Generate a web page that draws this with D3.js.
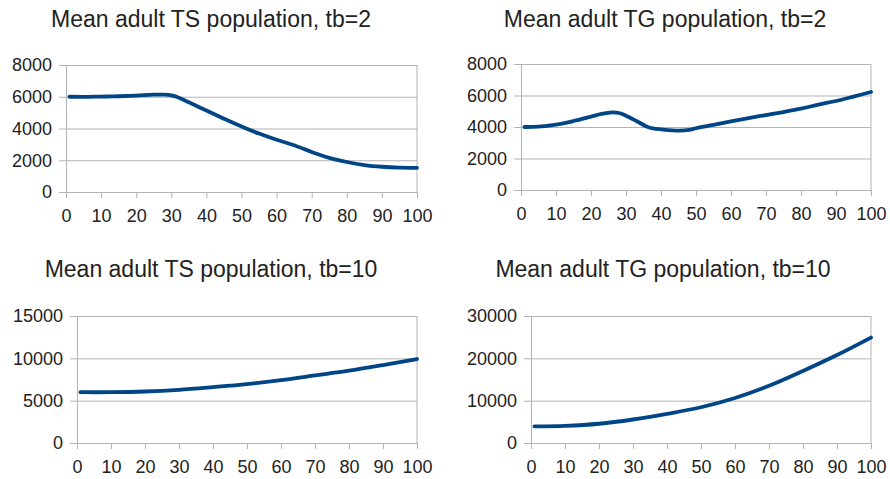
<!DOCTYPE html>
<html>
<head>
<meta charset="utf-8">
<script src="https://cdn.jsdelivr.net/npm/d3@7"></script>
<style>
  html, body { margin: 0; padding: 0; background: #ffffff; }
  svg { display: block; font-family: "Liberation Sans", Arial, sans-serif; }
</style>
</head>
<body>
<svg id="chart" width="890" height="479"></svg>
<script>
// Shared x-axis tick labels (time steps)
const xTickValues = [0, 10, 20, 30, 40, 50, 60, 70, 80, 90, 100];

// Mean adult TS population, tb=2
const tsTb2Steps  = [1, 5, 10, 15, 20, 25, 28, 30, 32, 35, 40, 45, 50, 55, 60, 65, 70, 75, 80, 85, 90, 95, 100];
const tsTb2Values = [6000, 5990, 6010, 6030, 6070, 6130, 6130, 6080, 5950, 5650, 5130, 4620, 4130, 3680, 3290, 2940, 2520, 2150, 1890, 1700, 1590, 1530, 1520];

// Mean adult TG population, tb=2
const tgTb2Steps  = [1, 5, 10, 15, 20, 23, 26, 28, 30, 33, 36, 38, 40, 45, 48, 50, 55, 60, 65, 70, 75, 80, 85, 90, 95, 100];
const tgTb2Values = [4000, 4020, 4150, 4380, 4660, 4830, 4930, 4890, 4720, 4380, 4020, 3900, 3850, 3770, 3810, 3920, 4130, 4360, 4570, 4760, 4950, 5160, 5420, 5650, 5930, 6220];

// Mean adult TS population, tb=10
const tsTb10Steps  = [1, 10, 20, 30, 40, 50, 60, 70, 80, 90, 100];
const tsTb10Values = [6000, 6000, 6080, 6280, 6600, 6960, 7430, 7980, 8540, 9210, 9920];

// Mean adult TG population, tb=10
const tgTb10Steps  = [1, 10, 20, 30, 40, 50, 60, 70, 80, 90, 100];
const tgTb10Values = [3950, 4060, 4550, 5550, 6880, 8440, 10630, 13520, 17030, 20780, 24900];

// Y-axis tick labels per panel
const yTicksTb2    = [0, 2000, 4000, 6000, 8000];
const yTicksTsTb10 = [0, 5000, 10000, 15000];
const yTicksTgTb10 = [0, 10000, 20000, 30000];

// Panel titles
const titles = [
  "Mean adult TS population, tb=2",
  "Mean adult TG population, tb=2",
  "Mean adult TS population, tb=10",
  "Mean adult TG population, tb=10"
];

// Panel layout (pixel frames) paired with the data above
const panels = [
  { title: titles[0], steps: tsTb2Steps,  values: tsTb2Values,  yTicks: yTicksTb2,
    left: 66,  right: 417, top: 65,  bottom: 192, titleX: 211, titleY: 26.5 },
  { title: titles[1], steps: tgTb2Steps,  values: tgTb2Values,  yTicks: yTicksTb2,
    left: 521, right: 871, top: 64,  bottom: 190, titleX: 665, titleY: 26.5 },
  { title: titles[2], steps: tsTb10Steps, values: tsTb10Values, yTicks: yTicksTsTb10,
    left: 77,  right: 417, top: 316, bottom: 443, titleX: 211, titleY: 276.5 },
  { title: titles[3], steps: tgTb10Steps, values: tgTb10Values, yTicks: yTicksTgTb10,
    left: 531, right: 871, top: 316, bottom: 443, titleX: 663, titleY: 276.5 }
];

const gridColor = "#b3b3b3";
const lineColor = "#004586";
const textColor = "#222222";

const svg = d3.select("#chart");

panels.forEach(p => {
  const w = p.right - p.left;
  const x = d3.scaleLinear().domain([0, 100]).range([p.left, p.right]);
  const y = d3.scaleLinear().domain([0, d3.max(p.yTicks)]).range([p.bottom, p.top]);

  // Title
  svg.append("text")
    .attr("x", p.titleX)
    .attr("y", p.titleY)
    .attr("text-anchor", "middle")
    .attr("font-size", 23)
    .attr("fill", textColor)
    .text(p.title);

  // Horizontal gridlines + y tick labels
  const yAxis = svg.append("g")
    .attr("transform", `translate(${p.left},0)`)
    .call(d3.axisLeft(y).tickValues(p.yTicks).tickSizeInner(-w).tickSizeOuter(0)
      .tickFormat(d3.format("d")));
  yAxis.select(".domain").attr("stroke", gridColor);
  yAxis.selectAll(".tick line").attr("stroke", gridColor).attr("x1", -7);
  yAxis.selectAll(".tick text")
    .attr("x", -14)
    .attr("font-size", 18)
    .attr("font-family", "\"Liberation Sans\", Arial, sans-serif")
    .attr("fill", textColor);

  // Right-hand frame line
  svg.append("line")
    .attr("x1", p.right).attr("x2", p.right)
    .attr("y1", p.top).attr("y2", p.bottom)
    .attr("stroke", gridColor);

  // X axis with short ticks
  const xAxis = svg.append("g")
    .attr("transform", `translate(0,${p.bottom})`)
    .call(d3.axisBottom(x).tickValues(xTickValues).tickSizeInner(6).tickSizeOuter(0));
  xAxis.select(".domain").attr("stroke", gridColor);
  xAxis.selectAll(".tick line").attr("stroke", gridColor);
  xAxis.selectAll(".tick text")
    .attr("y", 30)
    .attr("dy", null)
    .attr("font-size", 18)
    .attr("font-family", "\"Liberation Sans\", Arial, sans-serif")
    .attr("fill", textColor);

  // Data line
  const pts = p.steps.map((s, i) => [s, p.values[i]]);
  svg.append("path")
    .datum(pts)
    .attr("fill", "none")
    .attr("stroke", lineColor)
    .attr("stroke-width", 3.8)
    .attr("stroke-linejoin", "round")
    .attr("stroke-linecap", "round")
    .attr("d", d3.line()
      .x(d => x(d[0]))
      .y(d => y(d[1]))
      .curve(d3.curveCatmullRom.alpha(0.5)));
});
</script>
</body>
</html>
